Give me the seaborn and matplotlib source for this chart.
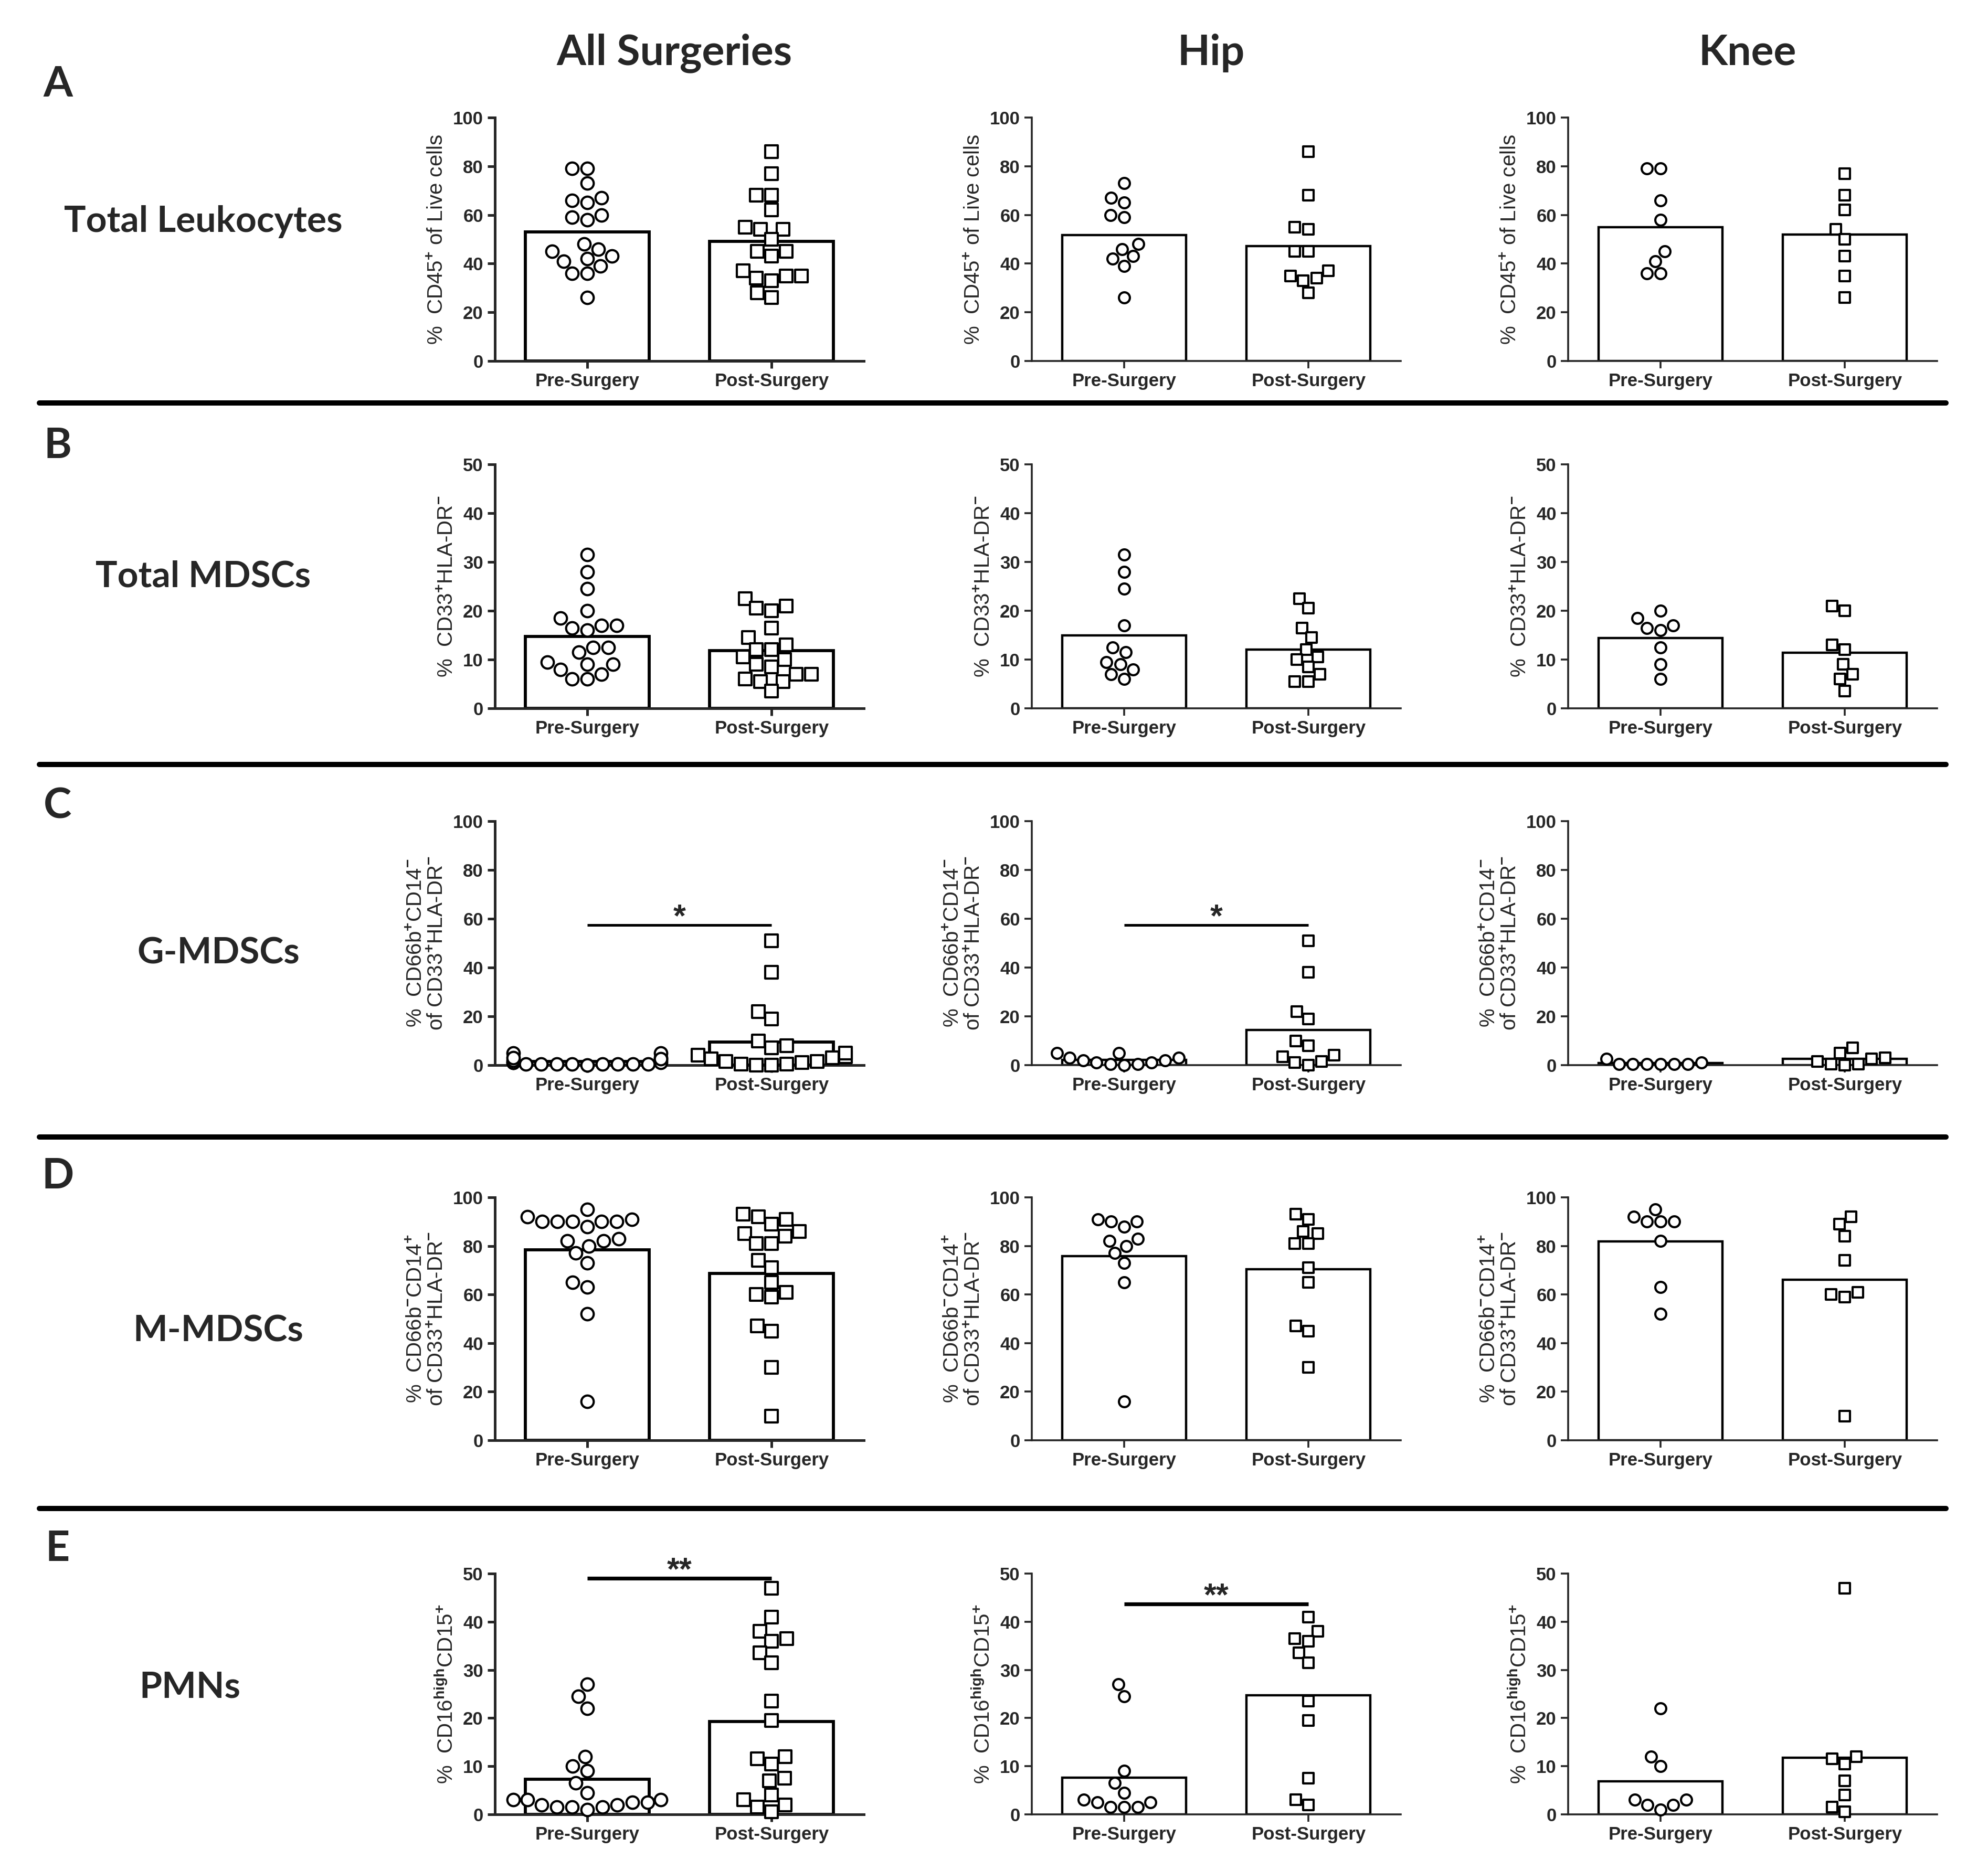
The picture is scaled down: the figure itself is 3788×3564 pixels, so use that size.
import pandas as pd
import seaborn as sns
import matplotlib.pyplot as plt
from matplotlib.lines import Line2D

# values (% of parent gate); hip n=11, knee n=8, "All" = hip + knee
leuko_hip_pre = [73, 67, 65, 60, 59, 48, 46, 42, 43, 39, 26]
leuko_hip_post = [86, 68, 55, 54, 45, 45, 35, 34, 33, 37, 28]
leuko_knee_pre = [79, 79, 66, 58, 45, 41, 36, 36]
leuko_knee_post = [77, 68, 62, 54, 50, 43, 35, 26]

mdsc_hip_pre = [31.5, 28, 24.5, 17, 12.5, 11.5, 9.5, 9, 8, 7, 6]
mdsc_hip_post = [22.5, 20.5, 16.5, 14.5, 12, 10, 10.5, 8.5, 7, 5.5, 5.5]
mdsc_knee_pre = [20, 18.5, 17, 16.5, 16, 12.5, 9, 6]
mdsc_knee_post = [21, 20, 13, 12, 9, 7, 6, 3.5]

gmdsc_hip_pre = [5, 3, 2, 1, 0.5, 0, 0.5, 1, 2, 3, 5]
gmdsc_hip_post = [51, 38, 22, 19, 10, 8, 4, 3.5, 1.5, 0, 1]
gmdsc_knee_pre = [1, 0.5, 0.5, 0.5, 0.5, 0.5, 0.5, 2.5]
gmdsc_knee_post = [5, 3, 7, 0.5, 0, 0.5, 1.5, 2.5]

mmdsc_hip_pre = [90, 88, 90, 91, 82, 80, 83, 77, 73, 65, 16]
mmdsc_hip_post = [93, 91, 86, 85, 81, 81, 71, 65, 47, 45, 30]
mmdsc_knee_pre = [95, 92, 90, 90, 90, 82, 63, 52]
mmdsc_knee_post = [92, 89, 84, 74, 61, 60, 59, 10]

pmn_hip_pre = [27, 24.5, 9, 6.5, 4.5, 2.5, 1.5, 1.5, 1.5, 2.5, 3]
pmn_hip_post = [41, 38, 36.5, 36, 33.5, 31.5, 23.5, 19.5, 7.5, 3, 2]
pmn_knee_pre = [22, 12, 10, 3, 2, 1, 2, 3]
pmn_knee_post = [47, 12, 11.5, 10.5, 7, 4, 1.5, 0.5]

groups = ['Pre-Surgery', 'Post-Surgery']
columns = ['All Surgeries', 'Hip', 'Knee']
row_letters = ['A', 'B', 'C', 'D', 'E']
row_names = ['Total Leukocytes', 'Total MDSCs', 'G-MDSCs', 'M-MDSCs', 'PMNs']
ylabels = [
    r'%  CD45$^{\mathbf{+}}$ of Live cells',
    r'%  CD33$^{\mathbf{+}}$HLA-DR$^{\mathbf{-}}$',
    '%  CD66b$^{\\mathbf{+}}$CD14$^{\\mathbf{-}}$\nof CD33$^{\\mathbf{+}}$HLA-DR$^{\\mathbf{-}}$',
    '%  CD66b$^{\\mathbf{-}}$CD14$^{\\mathbf{+}}$\nof CD33$^{\\mathbf{+}}$HLA-DR$^{\\mathbf{-}}$',
    r'%  CD16$^{\mathbf{high}}$CD15$^{\mathbf{+}}$',
]
y_max = [100, 50, 100, 100, 50]
y_step = [20, 10, 20, 20, 10]

rows = [
    (leuko_hip_pre, leuko_hip_post, leuko_knee_pre, leuko_knee_post),
    (mdsc_hip_pre, mdsc_hip_post, mdsc_knee_pre, mdsc_knee_post),
    (gmdsc_hip_pre, gmdsc_hip_post, gmdsc_knee_pre, gmdsc_knee_post),
    (mmdsc_hip_pre, mmdsc_hip_post, mmdsc_knee_pre, mmdsc_knee_post),
    (pmn_hip_pre, pmn_hip_post, pmn_knee_pre, pmn_knee_post),
]

# significance brackets: (row, col) -> (label, height)
sig_marks = {(2, 0): ('*', 57.5), (2, 1): ('*', 57.5),
             (4, 0): ('**', 49), (4, 1): ('**', 43.7)}

sns.set_style('ticks')
plt.rcParams['font.family'] = ['Liberation Sans', 'DejaVu Sans']
plt.rcParams['mathtext.fontset'] = 'custom'
plt.rcParams['mathtext.rm'] = 'Liberation Sans'
plt.rcParams['mathtext.bf'] = 'Liberation Sans:bold'
plt.rcParams['mathtext.it'] = 'Liberation Sans:italic'

W, H = 3788, 3564
DPI = 200
fig = plt.figure(figsize=(W / DPI, H / DPI), dpi=DPI)

# layout in pixels of the original figure
col_left = [943, 1966, 2988]
ax_w = 703
row_top = [224, 885, 1565, 2282, 2999]
row_bot = [688, 1350, 2030, 2745, 3458]


def fx(px):
    return px / W


def fy(py):
    return 1 - py / H


for r, (hip_pre, hip_post, knee_pre, knee_post) in enumerate(rows):
    panels = [
        (hip_pre + knee_pre, hip_post + knee_post),
        (hip_pre, hip_post),
        (knee_pre, knee_post),
    ]
    for c, (pre, post) in enumerate(panels):
        ax = fig.add_axes([fx(col_left[c]), fy(row_bot[r]),
                           ax_w / W, (row_bot[r] - row_top[r]) / H])
        lw = 1.8 if c == 0 else 1.3
        ms = 8.5 if c == 0 else 7.5
        df = pd.DataFrame({
            'group': ['Pre-Surgery'] * len(pre) + ['Post-Surgery'] * len(post),
            'value': list(pre) + list(post),
        })
        sns.barplot(data=df, x='group', y='value', order=groups, estimator='mean',
                    errorbar=None, width=0.67, color='white', saturation=1,
                    edgecolor='black', linewidth=lw + 0.3, ax=ax, zorder=1)
        for g, mk in zip(groups, ['o', 's']):
            sns.swarmplot(data=df[df['group'] == g], x='group', y='value', order=groups,
                          marker=mk, size=ms, color='white', edgecolor='black',
                          linewidth=1.5, ax=ax, zorder=3, warn_thresh=1)
        for coll in ax.collections:
            coll.set_clip_on(False)

        ax.set_xlim(-0.5, 1.5)
        ax.set_ylim(0, y_max[r])
        ticks = list(range(0, y_max[r] + 1, y_step[r]))
        ax.set_yticks(ticks, labels=[str(t) for t in ticks], fontweight='bold', fontsize=12.5)
        ax.set_xticks([0, 1], labels=groups, fontweight='bold', fontsize=12.5)
        ax.set_xlabel('')
        ax.set_ylabel(ylabels[r], fontsize=14.5, labelpad=4, linespacing=1.05)
        sns.despine(ax=ax)
        for s in ['left', 'bottom']:
            ax.spines[s].set_linewidth(lw)
        ax.tick_params(axis='both', direction='out', length=5, width=lw, pad=3)

        if (r, c) in sig_marks:
            label, yv = sig_marks[(r, c)]
            ax.plot([0, 1], [yv, yv], color='black', lw=1.8 if r == 2 else 2.6,
                    clip_on=False, solid_capstyle='butt')
            ax.text(0.5, yv - 0.005 * y_max[r], label, ha='center', va='baseline',
                    fontsize=22, fontweight='bold')

# column headers
for c, title in enumerate(columns):
    fig.text(fx(col_left[c] + ax_w / 2 - 10), fy(101), title, ha='center', va='center',
             fontsize=29, fontweight='bold', family=['Lato', 'DejaVu Sans'])

# row letters and names
letter_y = [161, 850, 1537, 2242, 2952]
name_x = [387, 387, 416, 416, 362]
name_y = [423, 1099, 1817, 2537, 3216]
for r in range(5):
    fig.text(fx(110), fy(letter_y[r]), row_letters[r], ha='center', va='center',
             fontsize=29, fontweight='bold', family=['Lato', 'DejaVu Sans'])
    fig.text(fx(name_x[r]), fy(name_y[r]), row_names[r], ha='center', va='center',
             fontsize=25, fontweight='bold', family=['Lato', 'DejaVu Sans'])

# horizontal separators between rows
for sy in [768, 1457, 2167, 2875]:
    fig.add_artist(Line2D([fx(75), fx(3708)], [fy(sy), fy(sy)], color='black', lw=3.6))

fig.savefig('out.png', dpi=DPI, facecolor='white')
